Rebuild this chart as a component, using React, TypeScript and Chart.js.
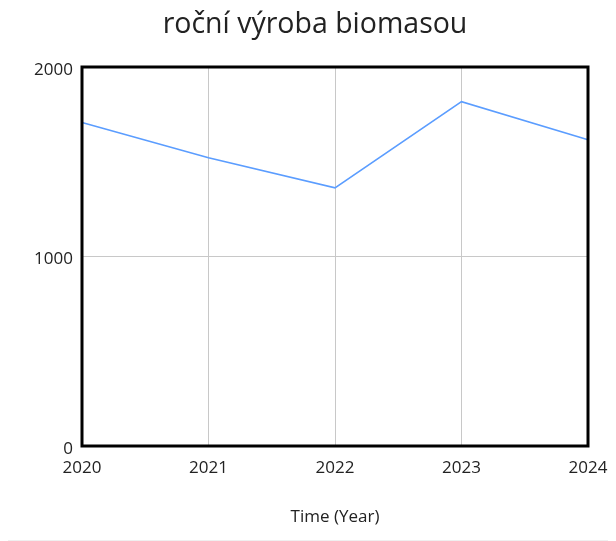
import React, { useEffect, useRef } from "react";
import { Chart, registerables } from "chart.js";

Chart.register(...registerables);

const titleText = "roční výroba biomasou";
const years = ["2020", "2021", "2022", "2023", "2024"];
const production = [1707, 1521, 1362, 1817, 1616];
const yTicks = [0, 1000, 2000];
const xAxisTitle = "Time (Year)";

const FONT = "'Open Sans', 'Noto Sans', sans-serif";

const borderPlugin = {
  id: "plotBorder",
  afterDraw(chart: any) {
    const { ctx, chartArea } = chart;
    ctx.save();
    ctx.strokeStyle = "#000";
    ctx.lineWidth = 3;
    ctx.strokeRect(chartArea.left, chartArea.top, chartArea.right - chartArea.left, chartArea.bottom - chartArea.top);
    ctx.restore();
  },
};

export default function App() {
  const ref = useRef<HTMLCanvasElement | null>(null);
  useEffect(() => {
    if (!ref.current) return;
    const chart = new Chart(ref.current, {
      type: "line",
      data: {
        labels: years,
        datasets: [
          {
            data: production,
            borderColor: "#5b9dff",
            borderWidth: 1.6,
            pointRadius: 0,
            fill: false,
            tension: 0,
          },
        ],
      },
      plugins: [borderPlugin],
      options: {
        animation: false,
        responsive: false,
        layout: { padding: { left: 14, right: 0, top: 0, bottom: 0 } },
        plugins: {
          legend: { display: false },
          tooltip: { enabled: false },
          title: {
            display: true,
            text: titleText,
            color: "#222",
            font: { family: FONT, size: 28.5, weight: "normal" },
            padding: { top: 0, bottom: 24.8 },
          },
        },
        scales: {
          x: {
            type: "category",
            offset: false,
            grid: { color: "#c8c8c8", lineWidth: 1, drawTicks: false },
            border: { display: false },
            ticks: {
              color: "#222",
              font: { family: FONT, size: 17 },
              padding: 12,
              maxRotation: 0,
              autoSkip: false,
            },
            title: {
              display: true,
              text: xAxisTitle,
              color: "#222",
              font: { family: FONT, size: 17 },
              padding: { top: 0, bottom: 11 },
            },
            afterFit(scale: any) {
              scale.height = 92;
              scale.paddingLeft = 0;
              scale.paddingRight = 20;
            },
          },
          y: {
            min: 0,
            max: 2000,
            afterBuildTicks(scale: any) {
              scale.ticks = yTicks.map((v) => ({ value: v }));
            },
            grid: { color: "#c8c8c8", lineWidth: 1, drawTicks: false },
            border: { display: false },
            ticks: {
              color: "#222",
              font: { family: FONT, size: 17 },
              padding: 9,
              labelOffset: 3,
              callback: (v: any) => String(v),
            },
            afterFit(scale: any) {
              scale.width = 60;
              scale.paddingTop = 0;
              scale.paddingBottom = 0;
            },
          },
        },
      },
    });
    return () => chart.destroy();
  }, []);
  return (
    <div>
      <canvas ref={ref} width={600} height={530} style={{ display: "block" }} />
      <div style={{ marginLeft: -8, marginTop: 2, width: 616, height: 1, background: "#efefef" }} />
    </div>
  );
}
